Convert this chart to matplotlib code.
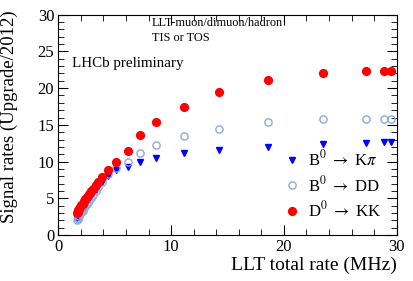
import numpy as np
import matplotlib.pyplot as plt
from matplotlib.ticker import MultipleLocator

plt.rcParams['font.family'] = ['Liberation Serif', 'DejaVu Serif']
plt.rcParams['mathtext.fontset'] = 'stix'

# LLT total rate (MHz)
rate = [1.63, 1.7, 1.78, 1.86, 1.95, 2.05, 2.15, 2.27, 2.4, 2.55, 2.7, 2.88, 3.08, 3.3, 3.55, 3.85,
        4.38, 5.14, 6.18, 7.27, 8.69, 11.14, 14.25, 18.6, 23.5, 27.3, 28.9, 29.5]
# signal rates (Upgrade/2012)
kpi = [2.3, 2.5, 2.7, 2.9, 3.1, 3.35, 3.6, 3.9, 4.2, 4.55, 4.9, 5.3, 5.75, 6.2, 6.7, 7.3,
       8.07, 8.8, 9.3, 9.9, 10.5, 11.15, 11.6, 12.05, 12.4, 12.6, 12.7, 12.7]
dd = [2.0, 2.2, 2.4, 2.6, 2.85, 3.1, 3.35, 3.65, 3.95, 4.3, 4.65, 5.05, 5.5, 6.0, 6.6, 7.3,
      8.3, 9.1, 9.9, 11.2, 12.2, 13.5, 14.5, 15.4, 15.8, 15.85, 15.85, 15.85]
kk = [3.0, 3.2, 3.4, 3.6, 3.8, 4.05, 4.3, 4.6, 4.9, 5.25, 5.6, 5.95, 6.35, 6.8, 7.3, 7.9,
      8.9, 10.0, 11.5, 13.6, 15.4, 17.4, 19.45, 21.05, 22.0, 22.35, 22.35, 22.35]

fig = plt.figure(figsize=(4.14, 2.81), dpi=100)
ax = fig.add_axes([0.141, 0.163, 0.817, 0.785])

ax.plot(rate, kpi, 'v', color='#0000ff', markersize=4.7, label=r'B$^0$ $\rightarrow$ K$\pi$')
ax.plot(rate, dd, 'o', mfc='none', mec='#8fa8e0', mew=1.0, markersize=5.2, label=r'B$^0$ $\rightarrow$ DD')
ax.plot(rate, kk, 'o', color='#ff0000', markersize=5.6, label=r'D$^0$ $\rightarrow$ KK')

ax.set_xlim(0, 30)
ax.set_ylim(0, 30)
ax.xaxis.set_major_locator(MultipleLocator(10))
ax.xaxis.set_minor_locator(MultipleLocator(2))
ax.yaxis.set_major_locator(MultipleLocator(5))
ax.yaxis.set_minor_locator(MultipleLocator(1))
ax.tick_params(which='both', direction='in', top=True, right=True, labelsize=12, pad=3)
ax.tick_params(which='major', length=7)
ax.tick_params(which='minor', length=4)

ax.set_ylabel('Signal rates (Upgrade/2012)', fontsize=13.5)
ax.yaxis.set_label_coords(-0.119, 0.536)
ax.set_xlabel('LLT total rate (MHz)', fontsize=14, loc='right', labelpad=1)

ax.text(0.04, 0.78, 'LHCb preliminary', transform=ax.transAxes, fontsize=10.8, va='center')
ax.text(0.276, 0.962, 'LLT-muon/dimuon/hadron', transform=ax.transAxes, fontsize=8.8, va='center')
ax.text(0.276, 0.895, 'TIS or TOS', transform=ax.transAxes, fontsize=8.8, va='center')

ax.legend(loc='lower left', bbox_to_anchor=(0.667, 0.066), frameon=False, fontsize=12,
          handlelength=1.0, handletextpad=0.45, labelspacing=0.33,
          borderpad=0, borderaxespad=0)

fig.savefig('out.png', dpi=100)
